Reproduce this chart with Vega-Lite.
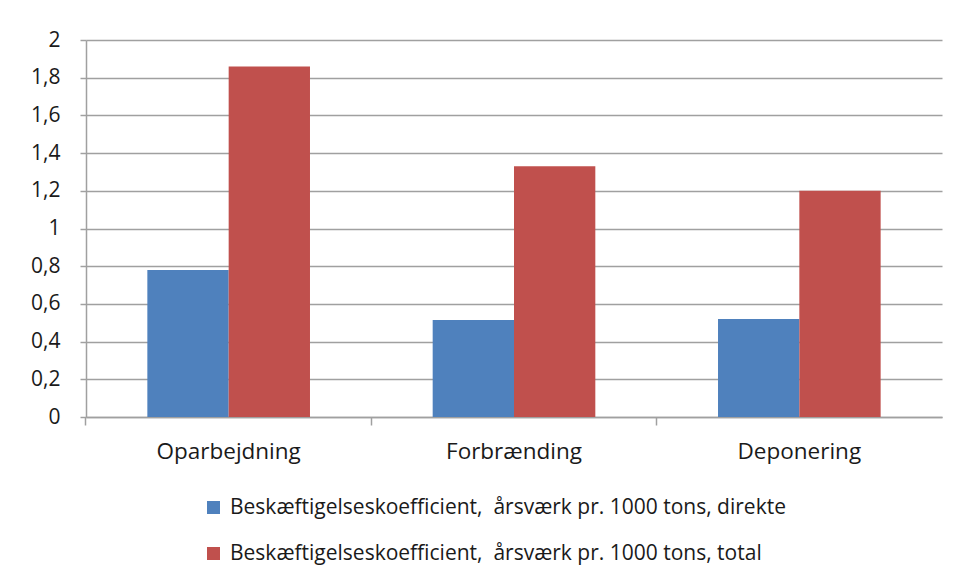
{
  "$schema": "https://vega.github.io/schema/vega-lite/v6.json",
  "width": 856,
  "height": 377,
  "autosize": {"type": "none"},
  "padding": {"left": 86, "top": 40, "right": 12, "bottom": 161},
  "background": "white",
  "data": {
    "values": [
      {"kategori": "Oparbejdning", "serie": "Beskæftigelseskoefficient,\u00a0 årsværk pr. 1000 tons, direkte", "v": 0.78},
      {"kategori": "Oparbejdning", "serie": "Beskæftigelseskoefficient,\u00a0 årsværk pr. 1000 tons, total", "v": 1.86},
      {"kategori": "Forbrænding", "serie": "Beskæftigelseskoefficient,\u00a0 årsværk pr. 1000 tons, direkte", "v": 0.515},
      {"kategori": "Forbrænding", "serie": "Beskæftigelseskoefficient,\u00a0 årsværk pr. 1000 tons, total", "v": 1.33},
      {"kategori": "Deponering", "serie": "Beskæftigelseskoefficient,\u00a0 årsværk pr. 1000 tons, direkte", "v": 0.52},
      {"kategori": "Deponering", "serie": "Beskæftigelseskoefficient,\u00a0 årsværk pr. 1000 tons, total", "v": 1.2}
    ]
  },
  "mark": {"type": "bar"},
  "encoding": {
    "x": {
      "field": "kategori",
      "type": "nominal",
      "sort": ["Oparbejdning", "Forbrænding", "Deponering"],
      "scale": {"paddingInner": 0.43, "paddingOuter": 0.215},
      "axis": {
        "title": null,
        "labelAngle": 0,
        "bandPosition": -0.379,
        "labelFont": "Open Sans",
        "labelFontSize": 22.5,
        "labelColor": "#1a1a1a",
        "labelPadding": 15,
        "tickSize": 8,
        "tickColor": "#a0a0a0",
        "tickWidth": 1.5,
        "domainColor": "#a0a0a0",
        "domainWidth": 1.5,
        "grid": false
      }
    },
    "xOffset": {
      "field": "serie",
      "type": "nominal",
      "scale": {"paddingInner": 0, "paddingOuter": 0}
    },
    "y": {
      "field": "v",
      "type": "quantitative",
      "scale": {"domain": [0, 2]},
      "axis": {
        "title": null,
        "values": [0, 0.2, 0.4, 0.6, 0.8, 1, 1.2, 1.4, 1.6, 1.8, 2],
        "labelExpr": "replace(format(datum.value, '.1~f'), '.', ',')",
        "labelFont": "Open Sans",
        "labelFontSize": 21,
        "labelColor": "#1a1a1a",
        "labelPadding": 20,
        "tickSize": 6,
        "tickColor": "#a0a0a0",
        "tickWidth": 1.5,
        "domainColor": "#a0a0a0",
        "domainWidth": 1.5,
        "grid": true,
        "gridColor": "#a0a0a0",
        "gridWidth": 1.5
      }
    },
    "color": {
      "field": "serie",
      "type": "nominal",
      "scale": {"range": ["#4f81bd", "#c0504d"]},
      "legend": {
        "title": null,
        "orient": "none",
        "legendX": 117,
        "legendY": 457,
        "symbolType": "square",
        "symbolSize": 169,
        "symbolStrokeWidth": 0,
        "symbolOpacity": 1,
        "labelFont": "Open Sans",
        "labelFontSize": 21,
        "labelColor": "#1a1a1a",
        "labelOffset": 6,
        "rowPadding": 24,
        "labelLimit": 800
      }
    }
  },
  "config": {
    "view": {"stroke": null}
  }
}
